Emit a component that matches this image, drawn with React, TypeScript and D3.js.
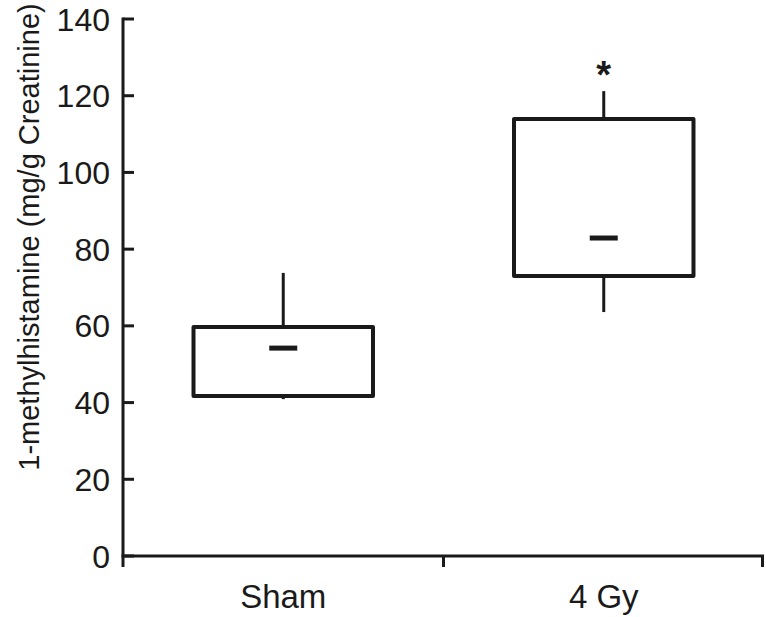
import React from "react";
import * as d3 from "d3";

const groups = ["Sham", "4 Gy"];
const q1 = [41.7, 73.0];
const q3 = [59.7, 113.9];
const medians = [54.2, 82.9];
const whiskerLow = [40.9, 63.6];
const whiskerHigh = [73.8, 121.2];
const significant = [false, true];
const yTicks = [0, 20, 40, 60, 80, 100, 120, 140];

const W = 766;
const H = 617;
const margin = { top: 19, right: 2, bottom: 61, left: 123 };

export default function App() {
  const y = d3.scaleLinear().domain([0, 140]).range([H - margin.bottom, margin.top]);
  const x = d3.scaleBand().domain(groups).range([margin.left, W - margin.right]).padding(0);
  const boxW = x.bandwidth() * 0.56;
  const medW = 28;
  const font = "'Liberation Sans', Arial, sans-serif";
  const y0 = y(0);

  return (
    <svg width={W} height={H} style={{ position: "absolute", left: 0, top: 0, background: "#fff" }}>
      {/* y axis */}
      <line x1={margin.left} x2={margin.left} y1={y(140) - 1.5} y2={y0} stroke="#1a1a1a" strokeWidth={3} />
      {yTicks.map((t) => (
        <g key={t}>
          <line x1={margin.left} x2={margin.left + 11} y1={y(t)} y2={y(t)} stroke="#1a1a1a" strokeWidth={3} />
          <text x={110} y={y(t)} dy="0.36em" textAnchor="end" fontFamily={font} fontSize={32} fill="#1a1a1a">
            {t}
          </text>
        </g>
      ))}
      {/* x axis */}
      <line x1={margin.left - 1.5} x2={W - margin.right} y1={y0} y2={y0} stroke="#1a1a1a" strokeWidth={3} />
      {[margin.left, x("4 Gy") as number, W - margin.right - 1.5].map((v, i) => (
        <line key={i} x1={v} x2={v} y1={y0} y2={y0 + 11} stroke="#1a1a1a" strokeWidth={3} />
      ))}
      {groups.map((g) => (
        <text key={g} x={(x(g) as number) + x.bandwidth() / 2} y={608} textAnchor="middle" fontFamily={font} fontSize={33} fill="#1a1a1a">
          {g}
        </text>
      ))}
      <text
        transform={`translate(39,237) rotate(-90)`}
        textAnchor="middle"
        fontFamily={font}
        fontSize={29}
        fill="#1a1a1a"
      >
        1-methylhistamine (mg/g Creatinine)
      </text>
      {/* boxes */}
      {groups.map((g, i) => {
        const cx = (x(g) as number) + x.bandwidth() / 2;
        return (
          <g key={g}>
            <line x1={cx} x2={cx} y1={y(whiskerHigh[i])} y2={y(q3[i])} stroke="#1a1a1a" strokeWidth={3} />
            <line x1={cx} x2={cx} y1={y(q1[i])} y2={y(whiskerLow[i])} stroke="#1a1a1a" strokeWidth={3} />
            <rect
              x={cx - boxW / 2}
              y={y(q3[i])}
              width={boxW}
              height={y(q1[i]) - y(q3[i])}
              fill="#fff"
              stroke="#1a1a1a"
              strokeWidth={4}
              strokeLinejoin="round"
            />
            <line x1={cx - medW / 2} x2={cx + medW / 2} y1={y(medians[i])} y2={y(medians[i])} stroke="#1a1a1a" strokeWidth={5} />
            {significant[i] && (
              <text x={cx} y={y(whiskerHigh[i]) - 3} textAnchor="middle" fontFamily={font} fontSize={38} fontWeight="bold" fill="#1a1a1a">
                *
              </text>
            )}
          </g>
        );
      })}
    </svg>
  );
}
